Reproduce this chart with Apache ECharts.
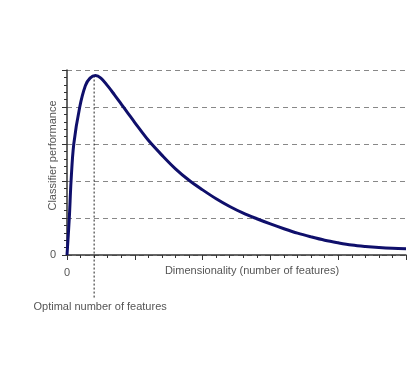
<!DOCTYPE html>
<html>
<head>
<meta charset="utf-8">
<script src="https://cdn.jsdelivr.net/npm/echarts@6/dist/echarts.min.js"></script>
<style>html,body{margin:0;padding:0;background:#fff}#c{width:409px;height:368px}</style>
</head>
<body>
<div id="c"></div>
<script>
// Data
const dimensionality = [0, 0.17, 0.3, 0.5, 0.94, 1.36, 1.7, 2.1, 2.5, 3, 3.5, 4, 4.5, 5, 6, 7, 8, 9, 10, 11, 12, 13, 14, 15, 16, 17, 18, 19, 20, 21, 22, 23, 24, 25];
const performance = [0, 1, 2, 3, 4, 4.58, 4.78, 4.85, 4.78, 4.57, 4.33, 4.08, 3.83, 3.58, 3.1, 2.7, 2.33, 2.02, 1.76, 1.52, 1.31, 1.13, 0.98, 0.84, 0.71, 0.59, 0.49, 0.4, 0.33, 0.27, 0.23, 0.2, 0.18, 0.17];
const optimalLine = [[2, 4.85], [2, -1.16]];
const xTickLabels = ['0'];
const yTickLabels = ['0'];
const xName = 'Dimensionality (number of features)';
const yName = 'Classifier performance';
const optimalLabel = 'Optimal number of features';

const curve = dimensionality.map((x, i) => [x, performance[i]]);
const textColor = '#555';
const font = 'Liberation Sans, Arial, sans-serif';

const chart = echarts.init(document.getElementById('c'));
chart.setOption({
  animation: false,
  grid: { left: 67, right: 2, top: 70, bottom: 113, containLabel: false },
  xAxis: {
    type: 'value', min: 0, max: 25, interval: 5,
    name: xName, nameLocation: 'middle', nameGap: 10, nameMoveOverlap: false,
    nameTextStyle: { color: textColor, fontSize: 11, fontFamily: font, padding: [0, 0, 0, 31] },
    axisLine: { lineStyle: { color: '#333', width: 1.5 } },
    axisTick: { show: true, length: 5, lineStyle: { color: '#333', width: 1 } },
    minorTick: { show: true, splitNumber: 5, length: 3, lineStyle: { color: '#333', width: 1 } },
    splitLine: { show: false },
    axisLabel: { color: textColor, fontSize: 11, fontFamily: font, margin: 12,
      formatter: v => (xTickLabels.indexOf(String(v)) >= 0 ? String(v) : '') }
  },
  yAxis: {
    type: 'value', min: 0, max: 5, interval: 1,
    name: yName, nameLocation: 'middle', nameGap: 9, nameMoveOverlap: false,
    nameTextStyle: { color: textColor, fontSize: 11, fontFamily: font, padding: [0, 0, 0, 14] },
    axisLine: { show: true, lineStyle: { color: '#333', width: 1.5 } },
    axisTick: { show: true, length: 5, lineStyle: { color: '#333', width: 1 } },
    minorTick: { show: true, splitNumber: 5, length: 3, lineStyle: { color: '#333', width: 1 } },
    splitLine: { show: true, lineStyle: { color: '#888', type: [5, 4], width: 1 } },
    axisLabel: { color: textColor, fontSize: 11, fontFamily: font, margin: 11,
      formatter: v => (yTickLabels.indexOf(String(v)) >= 0 ? String(v) : '') }
  },
  series: [
    {
      type: 'line', data: curve, smooth: 0.35, showSymbol: false, symbol: 'none',
      lineStyle: { color: '#0f0f6b', width: 3 }, z: 5
    },
    {
      type: 'line', data: optimalLine, clip: false, showSymbol: false, symbol: 'none', z: 3,
      lineStyle: { color: '#222', width: 1, type: [2, 2] },
      endLabel: { show: true, formatter: optimalLabel, color: textColor, fontSize: 11, fontFamily: font,
        align: 'center', verticalAlign: 'top', offset: [-2, 4] }
    }
  ]
});
</script>
</body>
</html>
